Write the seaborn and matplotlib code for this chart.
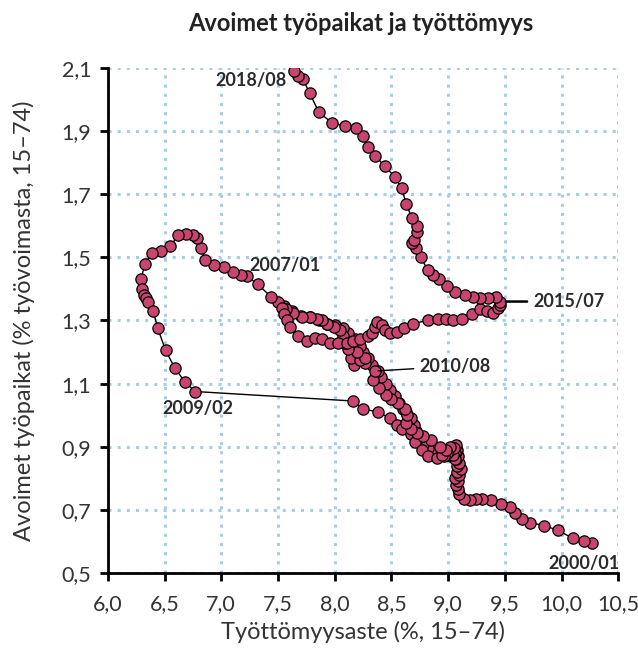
import matplotlib
matplotlib.use("Agg")
import matplotlib.pyplot as plt
import matplotlib.ticker as mticker
import seaborn as sns
import pandas as pd

# Unemployment rate (%, 15-74) and job vacancy rate (% of labour force), monthly path
unemp = [
    # 2000-2001
    10.27, 10.20, 10.10, 9.97, 9.85, 9.72, 9.65, 9.59, 9.55, 9.47, 9.38, 9.30,
    9.25, 9.19, 9.14, 9.10, 9.09, 9.07,
    # 2002-2004
    9.09, 9.06, 9.10, 9.08, 9.11, 9.08, 9.10, 9.07, 9.09, 9.06, 9.08, 9.05,
    9.07, 9.04, 9.06, 9.03, 9.06, 9.04, 9.02, 9.05, 9.02, 8.99, 8.96, 8.93, 8.90,
    # 2005-2006
    8.86, 8.82, 8.78, 8.75, 8.72, 8.70, 8.67, 8.63, 8.60, 8.57, 8.53, 8.49,
    8.45, 8.41, 8.38, 8.33, 8.29, 8.25, 8.22, 8.18, 8.12, 8.07, 8.00, 7.93,
    7.86, 7.78, 7.70, 7.62, 7.55, 7.50, 7.44,
    # 2007 - 2009/02
    7.32, 7.23, 7.17, 7.10, 7.02, 6.94, 6.86, 6.82, 6.79, 6.75, 6.69, 6.62,
    6.55, 6.47, 6.39, 6.33, 6.29, 6.30, 6.32, 6.34, 6.35, 6.40, 6.44, 6.51,
    6.59, 6.68, 6.77,
    # 2009/03 - 2010/08
    8.16, 8.25, 8.38, 8.49, 8.55, 8.59, 8.67, 8.71, 8.77, 8.82, 8.90, 8.95,
    8.98, 8.93, 8.85, 8.78, 8.73, 8.67, 8.63, 8.64, 8.62, 8.56, 8.50, 8.45,
    8.39, 8.34, 8.36,
    # 2010/09 - 2012
    8.27, 8.17, 8.14, 8.22, 8.27, 8.20, 8.12, 8.09, 8.07, 8.05, 7.99, 7.93,
    7.89, 7.84, 7.78, 7.71, 7.63, 7.57, 7.54, 7.55, 7.58, 7.61,
    # 2013 - 2015/07
    7.68, 7.76, 7.83, 7.89, 7.96, 8.03, 8.11, 8.16, 8.22, 8.29, 8.33, 8.36,
    8.37, 8.42, 8.44, 8.49, 8.55, 8.61, 8.69, 8.82, 8.91, 8.98, 9.04, 9.12,
    9.21, 9.28, 9.34, 9.40, 9.44, 9.46, 9.46,
    # 2015/08 - 2018/08
    9.42, 9.35, 9.28, 9.22, 9.15, 9.06, 8.99, 8.92, 8.87, 8.82, 8.76, 8.72,
    8.68, 8.70, 8.73, 8.73, 8.68, 8.63, 8.59, 8.53, 8.44, 8.36, 8.29, 8.25,
    8.19, 8.09, 7.98, 7.86, 7.78, 7.72, 7.68, 7.64,
]
vacancy = [
    # 2000-2001
    0.595, 0.60, 0.61, 0.635, 0.65, 0.66, 0.67, 0.69, 0.71, 0.72, 0.73, 0.735,
    0.735, 0.73, 0.735, 0.75, 0.765, 0.78,
    # 2002-2004
    0.79, 0.80, 0.81, 0.82, 0.83, 0.84, 0.85, 0.86, 0.87, 0.88, 0.89, 0.90,
    0.905, 0.895, 0.88, 0.87, 0.86, 0.875, 0.89, 0.895, 0.90, 0.88, 0.87, 0.875, 0.87,
    # 2005-2006
    0.88, 0.895, 0.91, 0.93, 0.95, 0.97, 0.99, 1.01, 1.02, 1.04, 1.06, 1.08,
    1.10, 1.12, 1.14, 1.16, 1.18, 1.20, 1.22, 1.24, 1.26, 1.275, 1.285, 1.29,
    1.30, 1.31, 1.315, 1.33, 1.345, 1.36, 1.375,
    # 2007 - 2009/02
    1.415, 1.44, 1.445, 1.455, 1.47, 1.475, 1.49, 1.53, 1.56, 1.57, 1.575, 1.57,
    1.535, 1.52, 1.515, 1.48, 1.43, 1.40, 1.38, 1.37, 1.36, 1.33, 1.275, 1.205,
    1.15, 1.105, 1.075,
    # 2009/03 - 2010/08
    1.045, 1.02, 1.01, 0.99, 0.97, 0.955, 0.94, 0.915, 0.89, 0.87, 0.865, 0.875,
    0.89, 0.90, 0.92, 0.935, 0.945, 0.955, 0.975, 1.00, 1.02, 1.04, 1.05, 1.065,
    1.085, 1.11, 1.14,
    # 2010/09 - 2012
    1.165, 1.16, 1.18, 1.175, 1.18, 1.20, 1.21, 1.23, 1.25, 1.27, 1.28, 1.29,
    1.30, 1.305, 1.31, 1.31, 1.325, 1.335, 1.34, 1.32, 1.30, 1.28,
    # 2013 - 2015/07
    1.25, 1.235, 1.245, 1.24, 1.23, 1.23, 1.23, 1.235, 1.24, 1.25, 1.26, 1.28,
    1.295, 1.285, 1.27, 1.26, 1.265, 1.275, 1.29, 1.30, 1.305, 1.305, 1.30, 1.305,
    1.32, 1.335, 1.33, 1.325, 1.34, 1.35, 1.36,
    # 2015/08 - 2018/08
    1.375, 1.37, 1.37, 1.375, 1.38, 1.39, 1.41, 1.43, 1.445, 1.46, 1.50, 1.53,
    1.545, 1.555, 1.58, 1.60, 1.625, 1.67, 1.72, 1.755, 1.79, 1.82, 1.85, 1.885,
    1.91, 1.915, 1.925, 1.96, 2.02, 2.065, 2.075, 2.09,
]

# Labelled months: (text, unemployment, vacancy)
label_text = ["2000/01", "2007/01", "2009/02", "2010/08", "2015/07", "2018/08"]
label_unemp = [10.27, 7.44, 6.77, 8.36, 9.46, 7.64]
label_vac = [0.595, 1.375, 1.075, 1.14, 1.36, 2.09]

x_ticks = [6.0, 6.5, 7.0, 7.5, 8.0, 8.5, 9.0, 9.5, 10.0, 10.5]
y_ticks = [0.5, 0.7, 0.9, 1.1, 1.3, 1.5, 1.7, 1.9, 2.1]

df = pd.DataFrame({"unemp": unemp, "vacancy": vacancy, "order": range(len(unemp))})

sns.set_theme(style="white")
plt.rcParams["font.family"] = ["Lato", "DejaVu Sans"]

fig = plt.figure(figsize=(6.38, 6.66), dpi=100)
ax = fig.add_axes([0.169, 0.1396, 0.800, 0.7584])

sns.lineplot(data=df, x="unemp", y="vacancy", sort=False, estimator=None,
             color="black", linewidth=1.0, ax=ax, zorder=2)
sns.scatterplot(data=df, x="unemp", y="vacancy", s=66, color="#C9456F",
                edgecolor="black", linewidth=0.9, ax=ax, zorder=3)

ax.set_xlim(6.0, 10.5)
ax.set_ylim(0.5, 2.1)
ax.set_xticks(x_ticks)
ax.set_yticks(y_ticks)
comma = mticker.FuncFormatter(lambda v, p: f"{v:.1f}".replace(".", ","))
ax.xaxis.set_major_formatter(comma)
ax.yaxis.set_major_formatter(comma)

ax.grid(True, linestyle=(0, (1, 2)), color="#A8CFE0", linewidth=2.2)
ax.set_axisbelow(True)
for side in ("top", "right"):
    ax.spines[side].set_visible(False)
for side in ("left", "bottom"):
    ax.spines[side].set_color("black")
    ax.spines[side].set_linewidth(2.0)
ax.tick_params(axis="both", direction="out", length=6, width=2, color="black",
               labelsize=15.5, labelcolor="#333333", bottom=True, left=True)
ax.tick_params(axis="x", pad=9)
ax.tick_params(axis="y", pad=6)

ax.set_xlabel("Työttömyysaste (%, 15–74)", fontsize=17, color="#333333", labelpad=5)
ax.set_ylabel("Avoimet työpaikat (% työvoimasta, 15–74)", fontsize=17,
              color="#333333", labelpad=19)
fig.suptitle("Avoimet työpaikat ja työttömyys", fontsize=17, fontweight="bold",
             color="#222222", x=0.566, y=0.982)

lab = dict(fontsize=13, fontweight="bold", color="#2b2b2b")
t = dict(zip(label_text, zip(label_unemp, label_vac)))
ax.annotate("2000/01", xy=t["2000/01"], xytext=(9.88, 0.53), ha="left", va="center", **lab)
ax.annotate("2007/01", xy=t["2007/01"], xytext=(7.25, 1.475), ha="left", va="center", **lab)
ax.annotate("2009/02", xy=t["2009/02"], xytext=(6.48, 1.02), ha="left", va="center", **lab)
ax.annotate("2010/08", xy=t["2010/08"], xytext=(8.75, 1.155), ha="left", va="center",
            arrowprops=dict(arrowstyle="-", color="black", lw=1.0, shrinkA=2, shrinkB=2), **lab)
ax.annotate("2015/07", xy=t["2015/07"], xytext=(9.75, 1.36), ha="left", va="center",
            arrowprops=dict(arrowstyle="-", color="black", lw=1.8, shrinkA=2, shrinkB=4), **lab)
ax.annotate("2018/08", xy=t["2018/08"], xytext=(7.58, 2.06), ha="right", va="center", **lab)

fig.savefig("out.png", dpi=100)
